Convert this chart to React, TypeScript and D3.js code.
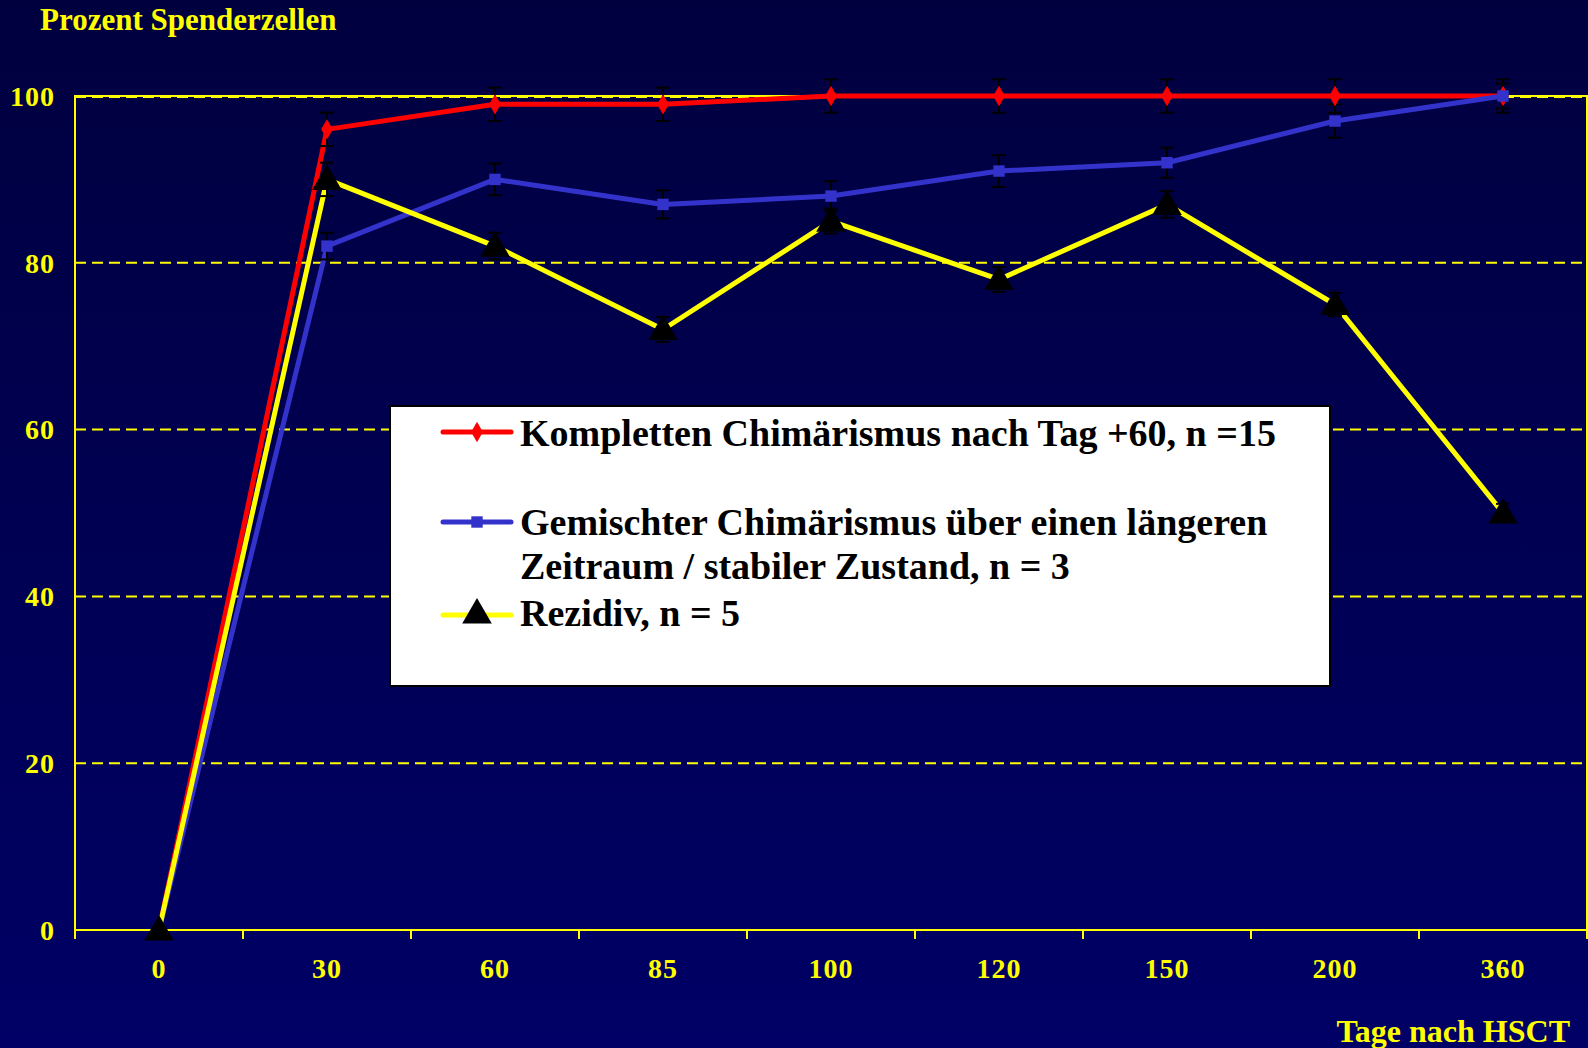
import React from "react";
import * as d3 from "d3";

// Days after transplant (categorical x axis)
const days = ["0", "30", "60", "85", "100", "120", "150", "200", "360"];
const yTicks = [0, 20, 40, 60, 80, 100];

// Donor cell percentage per group
const complete = [0, 96, 99, 99, 100, 100, 100, 100, 100];
const completeErr = [0, 2, 2, 2, 2, 2, 2, 2, 2];
const mixed = [0, 82, 90, 87, 88, 91, 92, 97, 100];
const mixedErr = [0, 1.6, 1.9, 1.7, 1.8, 1.9, 1.8, 2, 1.5];
const relapse = [0, 90, 82, 72, 85, 78, 87, 75, 50];
const relapseErr = [0, 2, 1.6, 1.5, 1.5, 1.5, 1.6, 1.4, 1.1];

const legendLabels = [
  "Kompletten Chimärismus nach Tag +60, n =15",
  "Gemischter Chimärismus über einen längeren",
  "Zeitraum / stabiler Zustand, n = 3",
  "Rezidiv, n = 5",
];

const W = 1588;
const H = 1048;
const FONT = "'Liberation Serif', 'Times New Roman', serif";

export default function App() {
  const x = d3.scaleBand<string>().domain(days).range([75, 1587]).padding(0);
  const cx = (d: string) => (x(d) as number) + x.bandwidth() / 2;
  const y = d3.scaleLinear().domain([0, 100]).range([930, 96]);

  const line = d3
    .line<number>()
    .x((_, i) => cx(days[i]))
    .y((v) => y(v));

  const series = [
    { values: complete, err: completeErr, color: "#FF0000", marker: "diamond" },
    { values: mixed, err: mixedErr, color: "#3333CC", marker: "square" },
    { values: relapse, err: relapseErr, color: "#FFFF00", marker: "triangle" },
  ];

  const diamond = d3.symbol(d3.symbolDiamond, 120)() as string;
  const square = d3.symbol(d3.symbolSquare, 130)() as string;
  const triangle = d3.symbol(d3.symbolTriangle, 380)() as string;

  const markerFor = (kind: string, color: string, px: number, py: number, key: string) => {
    if (kind === "diamond")
      return <path key={key} d={diamond} transform={`translate(${px},${py})`} fill={color} />;
    if (kind === "square")
      return <path key={key} d={square} transform={`translate(${px},${py})`} fill={color} />;
    return <path key={key} d={triangle} transform={`translate(${px},${py + 2})`} fill="#000" />;
  };

  const plotL = 75, plotR = 1587, plotT = 96, plotB = 930;

  return (
    <div style={{ position: "fixed", left: 0, top: 0 }}>
      <svg width={W} height={H} style={{ display: "block" }} fontFamily={FONT}>
        <defs>
          <linearGradient id="bg" x1="0" y1="0" x2="0" y2="1">
            <stop offset="0" stopColor="#00003F" />
            <stop offset="1" stopColor="#000066" />
          </linearGradient>
        </defs>
        <rect x={0} y={0} width={W} height={H} fill="url(#bg)" />

        {/* title */}
        <text x={40} y={30} fill="#FFFF00" fontWeight="bold" fontSize={31}>
          Prozent Spenderzellen
        </text>

        {/* gridlines */}
        {yTicks.filter((t) => t > 0).map((t) => (
          <line key={t} x1={plotL} x2={plotR} y1={y(t) + (t === 100 ? 1 : 0)} y2={y(t) + (t === 100 ? 1 : 0)}
            stroke="#FFFF00" strokeWidth={2} strokeDasharray="11 6" />
        ))}

        {/* plot frame */}
        <rect x={plotL} y={plotT} width={plotR - plotL} height={plotB - plotT}
          fill="none" stroke="#FFFF00" strokeWidth={2} />

        {/* x ticks */}
        {d3.range(days.length + 1).map((i) => {
          const tx = plotL + i * x.bandwidth();
          return <line key={i} x1={tx} x2={tx} y1={plotB} y2={plotB + 9} stroke="#FFFF00" strokeWidth={2} />;
        })}

        {/* y labels */}
        {yTicks.map((t) => (
          <text key={t} x={55} y={y(t)} dy="0.35em" textAnchor="end" fill="#FFFF00"
            fontWeight="bold" fontSize={28} letterSpacing={1}>{t}</text>
        ))}

        {/* x labels */}
        {days.map((d) => (
          <text key={d} x={cx(d)} y={978} textAnchor="middle" fill="#FFFF00"
            fontWeight="bold" fontSize={28} letterSpacing={1}>{d}</text>
        ))}
        <text x={1570} y={1042} textAnchor="end" fill="#FFFF00" fontWeight="bold" fontSize={32}>
          Tage nach HSCT
        </text>

        {/* lines */}
        {series.map((s, k) => (
          <path key={k} d={line(s.values) as string} fill="none" stroke={s.color}
            strokeWidth={5} strokeLinejoin="round" />
        ))}

        {/* error bars */}
        {series.map((s, k) =>
          s.values.map((v, i) => {
            const e = s.err[i];
            if (!e) return null;
            const px = cx(days[i]);
            const y1 = y(v + e), y2 = y(v - e);
            return (
              <g key={`${k}-${i}`} stroke="#000" strokeWidth={2}>
                <line x1={px} x2={px} y1={y1} y2={y2} />
                <line x1={px - 7} x2={px + 7} y1={y1} y2={y1} />
                <line x1={px - 7} x2={px + 7} y1={y2} y2={y2} />
              </g>
            );
          })
        )}

        {/* markers */}
        {series.map((s, k) =>
          s.values.map((v, i) => markerFor(s.marker, s.color, cx(days[i]), y(v), `${k}-${i}`))
        )}

        {/* legend */}
        <rect x={390} y={406} width={940} height={280} fill="#FFFFFF" stroke="#000" strokeWidth={2} />
        <g>
          <line x1={443} x2={511} y1={432} y2={432} stroke="#FF0000" strokeWidth={5} strokeLinecap="round" />
          {markerFor("diamond", "#FF0000", 477, 432, "l1")}
          <line x1={443} x2={511} y1={522} y2={522} stroke="#3333CC" strokeWidth={5} strokeLinecap="round" />
          {markerFor("square", "#3333CC", 477, 522, "l2")}
          <line x1={443} x2={511} y1={615} y2={615} stroke="#FFFF00" strokeWidth={5} strokeLinecap="round" />
          {markerFor("triangle", "#000", 477, 613, "l3")}
        </g>
        <g fill="#000" fontWeight="bold" fontSize={38}>
          <text x={520} y={446}>{legendLabels[0]}</text>
          <text x={520} y={535}>{legendLabels[1]}</text>
          <text x={520} y={579}>{legendLabels[2]}</text>
          <text x={520} y={626}>{legendLabels[3]}</text>
        </g>
      </svg>
    </div>
  );
}
